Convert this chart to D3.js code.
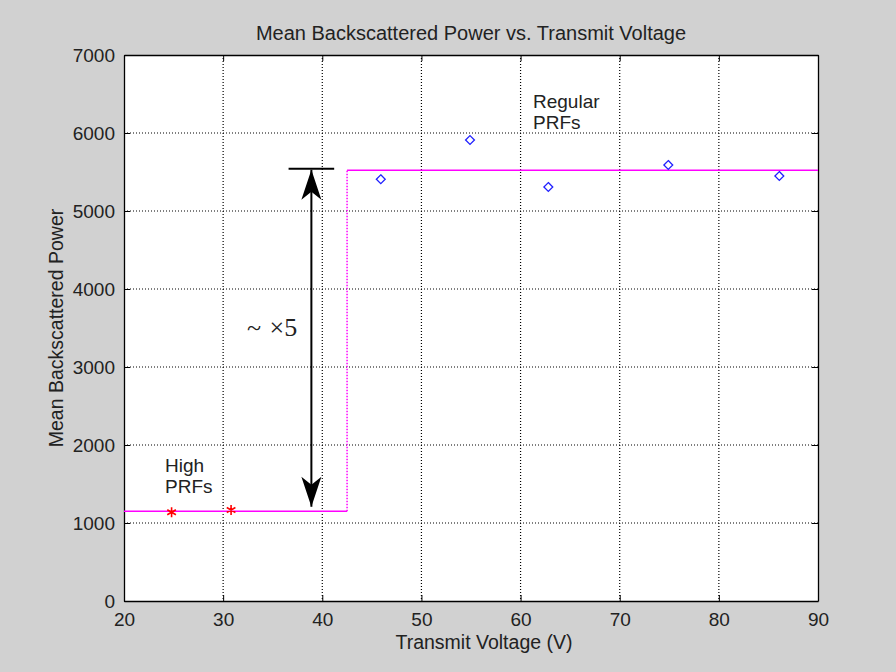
<!DOCTYPE html>
<html>
<head>
<meta charset="utf-8">
<script src="https://cdn.jsdelivr.net/npm/d3@7"></script>
<style>
  body { margin: 0; background: #d1d1d1; }
  svg { display: block; }
  text { font-family: "Liberation Sans", Arial, sans-serif; fill: #222; }
</style>
</head>
<body>
<div id="chart"></div>
<script>
const x_ticks = [20, 30, 40, 50, 60, 70, 80, 90];
const y_ticks = [0, 1000, 2000, 3000, 4000, 5000, 6000, 7000];

// high PRF points (red stars)
const high_voltage = [24.8, 30.8];
const high_power = [1137, 1167];

// regular PRF points (blue diamonds)
const regular_voltage = [45.9, 54.9, 62.8, 74.9, 86.1];
const regular_power = [5407, 5910, 5308, 5590, 5449];

// fitted step level
const step_voltage = [20, 42.5, 42.5, 90];
const step_power = [1150, 1150, 5522, 5522];

// arrow annotation
const arrow_voltage = 38.9;
const arrow_top = 5542;
const arrow_bottom = 1209;
const cap_voltage = [36.6, 41.2];

const width = 896, height = 672;
const margin = { left: 124, right: 78, top: 55, bottom: 71 };

const svg = d3.select('#chart')
  .append('svg')
  .attr('width', width)
  .attr('height', height)
  .style('background', '#d1d1d1');

const x = d3.scaleLinear().domain([20, 90]).range([margin.left, width - margin.right]);
const y = d3.scaleLinear().domain([0, 7000]).range([height - margin.bottom, margin.top]);

svg.append('rect')
  .attr('x', x(20)).attr('y', y(7000))
  .attr('width', x(90) - x(20)).attr('height', y(0) - y(7000))
  .attr('fill', '#fff');

// grid
const grid = svg.append('g').attr('stroke', '#000').attr('stroke-dasharray', '1,2').attr('stroke-width', 1.2);
grid.selectAll('.vgrid')
  .data(x_ticks.slice(1, -1))
  .join('line')
  .attr('x1', (d) => x(d)).attr('x2', (d) => x(d))
  .attr('y1', y(7000)).attr('y2', y(0));
grid.selectAll('.hgrid')
  .data(y_ticks.slice(1, -1))
  .join('line')
  .attr('x1', x(20)).attr('x2', x(90))
  .attr('y1', (d) => y(d)).attr('y2', (d) => y(d));

// axes (box with inward ticks)
const tick = 6;
const xAxisB = d3.axisBottom(x).tickValues(x_ticks).tickSizeInner(-tick).tickSizeOuter(0).tickPadding(12);
const xAxisT = d3.axisTop(x).tickValues(x_ticks).tickSizeInner(-tick).tickSizeOuter(0).tickFormat('');
const yAxisL = d3.axisLeft(y).tickValues(y_ticks).tickFormat(d3.format('d')).tickSizeInner(-tick).tickSizeOuter(0).tickPadding(9);
const yAxisR = d3.axisRight(y).tickValues(y_ticks).tickSizeInner(-tick).tickSizeOuter(0).tickFormat('');

function styleAxis(g) {
  g.select('.domain').attr('stroke', '#000').attr('stroke-width', 1.3);
  g.selectAll('.tick line').attr('stroke', '#000');
  g.selectAll('.tick text').style('font-size', '19px').attr('fill', '#222');
}
svg.append('g').attr('transform', `translate(0,${y(0)})`).call(xAxisB).call(styleAxis);
svg.append('g').attr('transform', `translate(0,${y(7000)})`).call(xAxisT).call(styleAxis);
svg.append('g').attr('transform', `translate(${x(20)},0)`).call(yAxisL).call(styleAxis);
svg.append('g').attr('transform', `translate(${x(90)},0)`).call(yAxisR).call(styleAxis);

// step line: horizontal parts solid, vertical part dotted
const step = step_voltage.map((v, i) => [v, step_power[i]]);
svg.append('line')
  .attr('x1', x(step[0][0])).attr('y1', y(step[0][1]))
  .attr('x2', x(step[1][0])).attr('y2', y(step[1][1]))
  .attr('stroke', '#ff00ff').attr('stroke-width', 1.5);
svg.append('line')
  .attr('x1', x(step[1][0])).attr('y1', y(step[1][1]))
  .attr('x2', x(step[2][0])).attr('y2', y(step[2][1]))
  .attr('stroke', '#ff00ff').attr('stroke-width', 1.5).attr('stroke-dasharray', '1.5,1.5');
svg.append('line')
  .attr('x1', x(step[2][0])).attr('y1', y(step[2][1]))
  .attr('x2', x(step[3][0])).attr('y2', y(step[3][1]))
  .attr('stroke', '#ff00ff').attr('stroke-width', 1.5);

// red stars
const star = d3.symbol().type(d3.symbolAsterisk).size(70);
svg.selectAll('.star')
  .data(high_voltage.map((v, i) => [v, high_power[i]]))
  .join('path')
  .attr('class', 'star')
  .attr('transform', (d) => `translate(${x(d[0])},${y(d[1])})`)
  .attr('d', star)
  .attr('stroke', '#ff0000').attr('stroke-width', 1.6).attr('fill', 'none');

// blue diamonds
const diamond = d3.symbol().type(d3.symbolDiamond2).size(50);
svg.selectAll('.diamond')
  .data(regular_voltage.map((v, i) => [v, regular_power[i]]))
  .join('path')
  .attr('class', 'diamond')
  .attr('transform', (d) => `translate(${x(d[0])},${y(d[1])})`)
  .attr('d', diamond)
  .attr('stroke', '#2020ff').attr('stroke-width', 1.3).attr('fill', 'none');

// arrow
svg.append('line')
  .attr('x1', x(arrow_voltage)).attr('x2', x(arrow_voltage))
  .attr('y1', y(arrow_top) + 1).attr('y2', y(arrow_bottom))
  .attr('stroke', '#000').attr('stroke-width', 2);
svg.append('path')
  .attr('d', `M${x(arrow_voltage)},${y(arrow_top) + 1} l-10,30 l10,-8 l10,8 Z`)
  .attr('fill', '#000');
svg.append('path')
  .attr('d', `M${x(arrow_voltage)},${y(arrow_bottom)} l-10,-30 l10,8 l10,-8 Z`)
  .attr('fill', '#000');
svg.append('line')
  .attr('x1', x(cap_voltage[0])).attr('x2', x(cap_voltage[1]))
  .attr('y1', y(arrow_top)).attr('y2', y(arrow_top))
  .attr('stroke', '#000').attr('stroke-width', 2);

// annotations
svg.append('text')
  .attr('x', 247).attr('y', 336)
  .style('font-family', '"Liberation Serif", "Times New Roman", serif')
  .style('font-size', '26px').style('word-spacing', '2px').attr('fill', '#000')
  .text('~ ×5');

const high = svg.append('text').style('font-size', '19px');
high.append('tspan').attr('x', 165).attr('y', 472).text('High');
high.append('tspan').attr('x', 165).attr('y', 493).text('PRFs');

const reg = svg.append('text').style('font-size', '19px');
reg.append('tspan').attr('x', 533).attr('y', 108).text('Regular');
reg.append('tspan').attr('x', 533).attr('y', 129).text('PRFs');

// titles
svg.append('text')
  .attr('x', (x(20) + x(90)) / 2).attr('y', 40)
  .attr('text-anchor', 'middle').style('font-size', '20px')
  .text('Mean Backscattered Power vs. Transmit Voltage');
svg.append('text')
  .attr('x', 484).attr('y', 649)
  .attr('text-anchor', 'middle').style('font-size', '19.5px')
  .text('Transmit Voltage (V)');
svg.append('text')
  .attr('transform', `translate(63,${(y(0) + y(7000)) / 2}) rotate(-90)`)
  .attr('text-anchor', 'middle').style('font-size', '19.5px')
  .text('Mean Backscattered Power');
</script>
</body>
</html>
